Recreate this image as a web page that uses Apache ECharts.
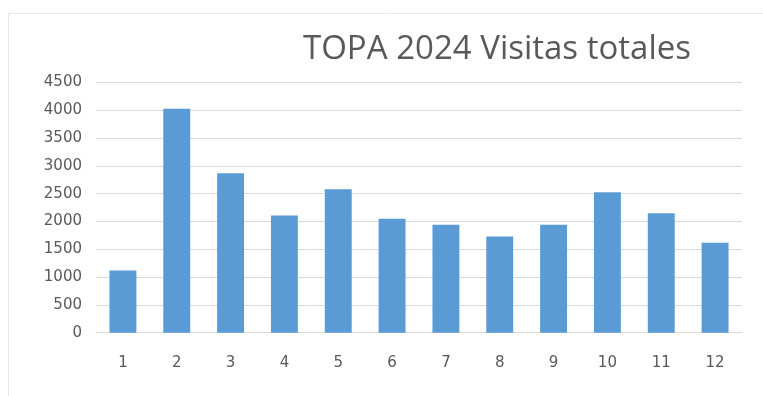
<!DOCTYPE html>
<html>
<head>
<meta charset="utf-8">
<script src="https://cdn.jsdelivr.net/npm/echarts@6/dist/echarts.min.js"></script>
<style>
  html, body { margin: 0; padding: 0; background: #ffffff; }
  #chart { width: 763px; height: 396px; }
</style>
</head>
<body>
<div id="chart"></div>
<script>
// Monthly visit totals for 2024
const months = ['1', '2', '3', '4', '5', '6', '7', '8', '9', '10', '11', '12'];
const visits = [1120, 4030, 2870, 2110, 2580, 2050, 1940, 1730, 1940, 2525, 2150, 1620];
const titleText = 'TOPA 2024 Visitas totales';

const chart = echarts.init(document.getElementById('chart'), null, { renderer: 'canvas' });
const titleFont = '"Open Sans", "DejaVu Sans", sans-serif';
const labelFont = '"DejaVu Sans", "Open Sans", sans-serif';

chart.setOption({
  animation: false,
  backgroundColor: '#ffffff',
  graphic: [{
    type: 'rect',
    shape: { x: 8.5, y: 13.5, width: 800, height: 420 },
    style: { fill: 'none', stroke: '#e6e6e6', lineWidth: 1 },
    silent: true
  }],
  title: {
    text: titleText,
    left: 492,
    textAlign: 'center',
    top: 28,
    textStyle: {
      fontFamily: titleFont,
      fontSize: 33,
      fontWeight: 'normal',
      color: '#595959'
    }
  },
  grid: { left: 96, right: 21, top: 82.5, bottom: 63.3, containLabel: false },
  xAxis: {
    type: 'category',
    data: months,
    axisLine: { show: true, lineStyle: { color: '#d9d9d9', width: 1 } },
    axisTick: { show: false },
    axisLabel: { color: '#595959', fontFamily: labelFont, fontSize: 15, margin: 23 }
  },
  yAxis: {
    type: 'value',
    min: 0,
    max: 4500,
    interval: 500,
    axisLine: { show: false },
    axisTick: { show: false },
    splitLine: { lineStyle: { color: '#d9d9d9', width: 1 } },
    axisLabel: {
      color: '#595959',
      fontFamily: labelFont,
      fontSize: 15,
      margin: 14,
      formatter: (v) => String(v)
    }
  },
  series: [{
    type: 'bar',
    data: visits,
    barWidth: '50%',
    itemStyle: { color: '#5b9bd5' }
  }]
});
</script>
</body>
</html>
